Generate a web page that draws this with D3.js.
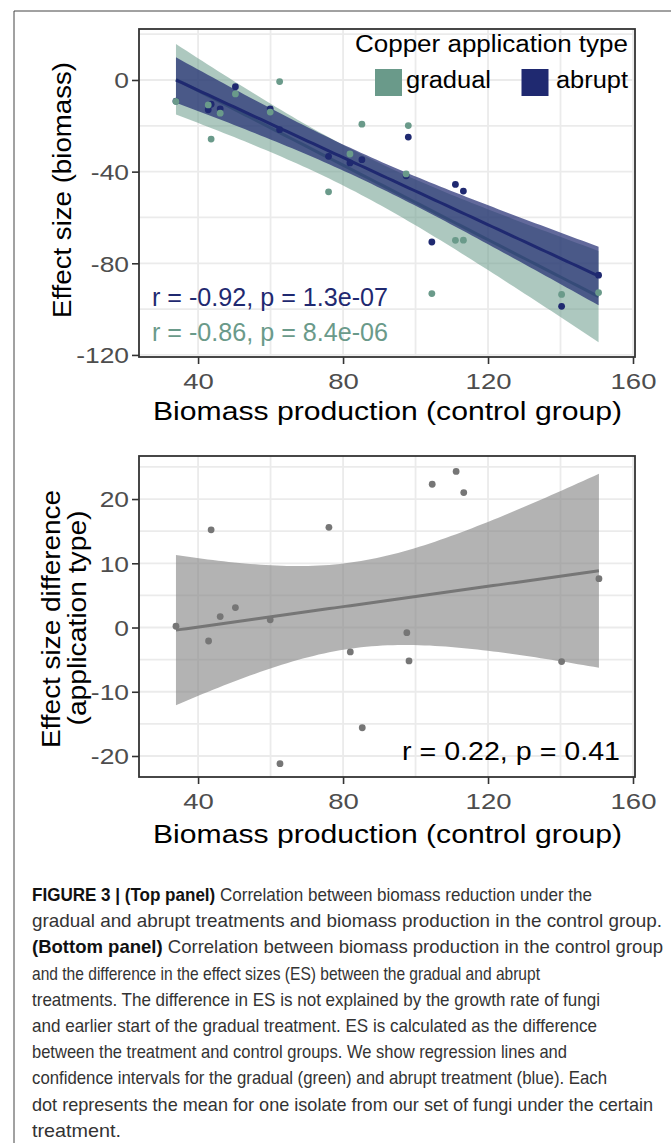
<!DOCTYPE html>
<html><head><meta charset="utf-8">
<script src="https://cdn.jsdelivr.net/npm/d3@7"></script>
<style>body{margin:0;background:#fff}svg{display:block}</style>
</head><body>
<svg id="c" width="671" height="1143"></svg>
<script>
// ---------- data ----------
const biomass   = [33.9, 42.8, 43.6, 46.1, 50.3, 59.9, 62.5, 76.0, 81.9, 85.2, 97.4, 98.0, 104.5, 111.0, 113.2, 140.3, 150.5];
const gradualES = [-9.4, -10.9, -25.8, -14.5, -6.1, -14.0, -0.7, -48.8, -32.3, -19.3, -41.0, -19.9, -93.2, -70.0, -69.9, -93.6, -92.8];
const abruptES  = [-9.2, -13.0, -10.6, -12.6, -2.9, -12.6, -21.7, -33.3, -36.2, -34.8, -41.8, -24.9, -70.7, -45.6, -48.5, -98.8, -85.2];
const diffBiomass = [33.9, 42.9, 43.6, 46.1, 50.3, 59.9, 62.6, 76.1, 82.0, 85.3, 97.6, 98.2, 104.6, 111.2, 113.3, 140.3, 150.6];
const esDiff    = [0.2, -2.1, 15.2, 1.7, 3.1, 1.2, -21.2, 15.6, -3.8, -15.6, -0.8, -5.2, 22.3, 24.3, 21.0, -5.3, 7.6];

const xTicks = [40, 80, 120, 160];
const topYTicks = [0, -40, -80, -120];
const botYTicks = [20, 10, 0, -10, -20];
const seriesNames = ["gradual", "abrupt"];
const seriesColors = ["#6a9a8a", "#1f2970"];
const legendTitle = "Copper application type";
const statLabels = ["r = -0.92, p = 1.3e-07", "r = -0.86, p = 8.4e-06"];
const diffStatLabel = "r = 0.22, p = 0.41";
const xTitle = "Biomass production (control group)";
const topYTitle = "Effect size (biomass)";
const botYTitle = ["Effect size difference", "(application type)"];
const captionLines = [
  [["FIGURE 3 | (Top panel)", true], [" Correlation between biomass reduction under the", false]],
  [["gradual and abrupt treatments and biomass production in the control group.", false]],
  [["(Bottom panel)", true], [" Correlation between biomass production in the control group", false]],
  [["and the difference in the effect sizes (ES) between the gradual and abrupt", false]],
  [["treatments. The difference in ES is not explained by the growth rate of fungi", false]],
  [["and earlier start of the gradual treatment. ES is calculated as the difference", false]],
  [["between the treatment and control groups. We show regression lines and", false]],
  [["confidence intervals for the gradual (green) and abrupt treatment (blue). Each", false]],
  [["dot represents the mean for one isolate from our set of fungi under the certain", false]],
  [["treatment.", false]]
];

// ---------- helpers ----------
const svg = d3.select("#c");
const FONT = "'Liberation Sans', Arial, Helvetica, sans-serif";
const T975 = 2.131; // t quantile, df = 15

function fit(xs, ys) {
  const n = xs.length, mx = d3.mean(xs), my = d3.mean(ys);
  let sxx = 0, sxy = 0;
  xs.forEach((x, i) => { sxx += (x - mx) ** 2; sxy += (x - mx) * (ys[i] - my); });
  const b = sxy / sxx, a = my - b * mx;
  let sse = 0;
  xs.forEach((x, i) => { sse += (ys[i] - a - b * x) ** 2; });
  const s = Math.sqrt(sse / (n - 2));
  const lo = d3.min(xs), hi = d3.max(xs);
  return d3.range(81).map(i => {
    const x = lo + (hi - lo) * i / 80, y = a + b * x;
    const se = s * Math.sqrt(1 / n + (x - mx) ** 2 / sxx);
    return { x, y, lo: y - T975 * se, hi: y + T975 * se };
  });
}

function stretch(sel, k) {
  sel.each(function () {
    const L = this.getComputedTextLength();
    d3.select(this).attr("textLength", L * k).attr("lengthAdjust", "spacingAndGlyphs");
  });
}

const L = 139, R = 635;
const x = d3.scaleLinear().domain([23.7, 160.55]).range([L, R]);

function panel(top, bottom, y, yTicksMajor, yMinor, xMinor) {
  const g = svg.append("g");
  g.append("rect").attr("x", L).attr("y", top).attr("width", R - L).attr("height", bottom - top).attr("fill", "#fff");
  const grid = g.append("g").attr("stroke", "#ebebeb").attr("stroke-width", 1.8);
  grid.selectAll(".gy").data(yTicksMajor.concat(yMinor)).join("line")
    .attr("x1", L).attr("x2", R).attr("y1", d => y(d)).attr("y2", d => y(d));
  grid.selectAll(".gx").data(xTicks.concat(xMinor)).join("line")
    .attr("y1", top).attr("y2", bottom).attr("x1", d => x(d)).attr("x2", d => x(d));
  return g;
}

function frame(top, bottom, y, yTicks) {
  svg.append("rect").attr("x", L).attr("y", top).attr("width", R - L).attr("height", bottom - top)
    .attr("fill", "none").attr("stroke", "#333").attr("stroke-width", 1.8);
  const ay = svg.append("g").attr("transform", `translate(${L},0)`)
    .call(d3.axisLeft(y).tickValues(yTicks).tickSize(7).tickPadding(3).tickFormat(d3.format("d")));
  const ax = svg.append("g").attr("transform", `translate(0,${bottom})`)
    .call(d3.axisBottom(x).tickValues(xTicks).tickSize(7).tickPadding(4).tickFormat(d3.format("d")));
  [ay, ax].forEach(a => {
    a.select(".domain").remove();
    a.selectAll(".tick line").attr("stroke", "#333").attr("stroke-width", 1.6);
    a.selectAll(".tick text").attr("fill", "#4d4d4d").attr("font-family", FONT).attr("font-size", 22)
      .text(d => String(d));
  });
  ay.selectAll(".tick text").attr("dy", "0.36em");
  ax.selectAll(".tick text").attr("dy", "0.95em");
  stretch(ay.selectAll(".tick text"), 1.2);
  stretch(ax.selectAll(".tick text"), 1.25);
}

// ---------- outer frame ----------
svg.append("line").attr("x1", 14).attr("x2", 671).attr("y1", 11).attr("y2", 11).attr("stroke", "#444").attr("stroke-width", 1);
svg.append("line").attr("x1", 14).attr("x2", 14).attr("y1", 11).attr("y2", 1143).attr("stroke", "#444").attr("stroke-width", 1);

// ---------- top panel ----------
const tTop = 29, tBot = 357;
const yT = d3.scaleLinear().domain([-120.9, 22.25]).range([tBot, tTop]);
panel(tTop, tBot, yT, topYTicks, [20, -20, -60, -100], [60, 100, 140]);

const fits = [fit(biomass, gradualES), fit(biomass, abruptES)];
const ribbonOpacity = [0.55, 0.7];
fits.forEach((f, i) => {
  svg.append("path").datum(f)
    .attr("d", d3.area().x(d => x(d.x)).y0(d => yT(d.lo)).y1(d => yT(d.hi)))
    .attr("fill", seriesColors[i]).attr("fill-opacity", ribbonOpacity[i]);
  svg.append("path").datum(f)
    .attr("d", d3.line().x(d => x(d.x)).y(d => yT(d.y)))
    .attr("fill", "none").attr("stroke", seriesColors[i]).attr("stroke-width", 3);
});
[abruptES, gradualES].forEach((ys, k) => {
  const col = k === 0 ? seriesColors[1] : seriesColors[0];
  svg.append("g").selectAll("circle").data(biomass).join("circle")
    .attr("cx", d => x(d)).attr("cy", (d, i) => yT(ys[i])).attr("r", 3.4).attr("fill", col);
});

// stats text
const st = svg.append("g").attr("font-family", FONT).attr("font-size", 25);
st.append("text").attr("x", 152).attr("y", 306).attr("fill", seriesColors[1]).text(statLabels[0])
  .attr("textLength", 236).attr("lengthAdjust", "spacingAndGlyphs");
st.append("text").attr("x", 152).attr("y", 341).attr("fill", seriesColors[0]).text(statLabels[1])
  .attr("textLength", 236).attr("lengthAdjust", "spacingAndGlyphs");

// legend
const lg = svg.append("g").attr("font-family", FONT).attr("font-size", 23).attr("fill", "#000");
lg.append("text").attr("x", 355).attr("y", 52).text(legendTitle)
  .attr("textLength", 273).attr("lengthAdjust", "spacingAndGlyphs");
const keyX = [375, 521.5], keyTextX = [406, 556], keyTextW = [85, 72];
seriesNames.forEach((n, i) => {
  lg.append("rect").attr("x", keyX[i]).attr("y", 69).attr("width", 27).attr("height", 27).attr("fill", seriesColors[i]);
  lg.append("text").attr("x", keyTextX[i]).attr("y", 88).text(n)
    .attr("textLength", keyTextW[i]).attr("lengthAdjust", "spacingAndGlyphs");
});

frame(tTop, tBot, yT, topYTicks);

// ---------- bottom panel ----------
const bTop = 456, bBot = 777;
const yB = d3.scaleLinear().domain([-23.27, 26.7]).range([bBot, bTop]);
panel(bTop, bBot, yB, botYTicks, [25, 15, 5, -5, -15], [60, 100, 140]);
const fb = fit(diffBiomass, esDiff);
svg.append("path").datum(fb)
  .attr("d", d3.area().x(d => x(d.x)).y0(d => yB(d.lo)).y1(d => yB(d.hi)))
  .attr("fill", "#808080").attr("fill-opacity", 0.6);
svg.append("path").datum(fb)
  .attr("d", d3.line().x(d => x(d.x)).y(d => yB(d.y)))
  .attr("fill", "none").attr("stroke", "#767676").attr("stroke-width", 3);
svg.append("g").selectAll("circle").data(diffBiomass).join("circle")
  .attr("cx", d => x(d)).attr("cy", (d, i) => yB(esDiff[i])).attr("r", 3.4).attr("fill", "#767676");
svg.append("text").attr("x", 402).attr("y", 760).attr("font-family", FONT).attr("font-size", 25)
  .attr("fill", "#000").text(diffStatLabel).attr("textLength", 218).attr("lengthAdjust", "spacingAndGlyphs");
frame(bTop, bBot, yB, botYTicks);

// ---------- axis titles ----------
const tt = svg.append("g").attr("font-family", FONT).attr("font-size", 26).attr("fill", "#000").attr("text-anchor", "middle");
tt.append("text").attr("x", 387.5).attr("y", 420).text(xTitle).attr("textLength", 469).attr("lengthAdjust", "spacingAndGlyphs");
tt.append("text").attr("x", 387.5).attr("y", 843).text(xTitle).attr("textLength", 469).attr("lengthAdjust", "spacingAndGlyphs");
tt.append("text").attr("transform", "translate(71,190) rotate(-90)").text(topYTitle)
  .attr("textLength", 256).attr("lengthAdjust", "spacingAndGlyphs");
tt.append("text").attr("transform", "translate(60,619) rotate(-90)").text(botYTitle[0])
  .attr("textLength", 258).attr("lengthAdjust", "spacingAndGlyphs");
tt.append("text").attr("transform", "translate(86,618) rotate(-90)").text(botYTitle[1])
  .attr("textLength", 215).attr("lengthAdjust", "spacingAndGlyphs");

// ---------- caption ----------
const capW = [560, 630, 631, 508, 568, 565, 535, 575, 621, 89];
const cap = svg.append("g").attr("font-family", "'Liberation Sans Narrow', 'Liberation Sans', Arial, sans-serif")
  .attr("font-size", 18.5).attr("fill", "#333");
captionLines.forEach((segs, i) => {
  const t = cap.append("text").attr("x", 32).attr("y", 901 + i * 26.2)
    .attr("textLength", capW[i]).attr("lengthAdjust", "spacingAndGlyphs");
  segs.forEach(([s, b]) => {
    t.append("tspan").text(s).attr("font-weight", b ? "bold" : "normal").attr("fill", b ? "#111" : "#333");
  });
});
</script>
</body></html>
